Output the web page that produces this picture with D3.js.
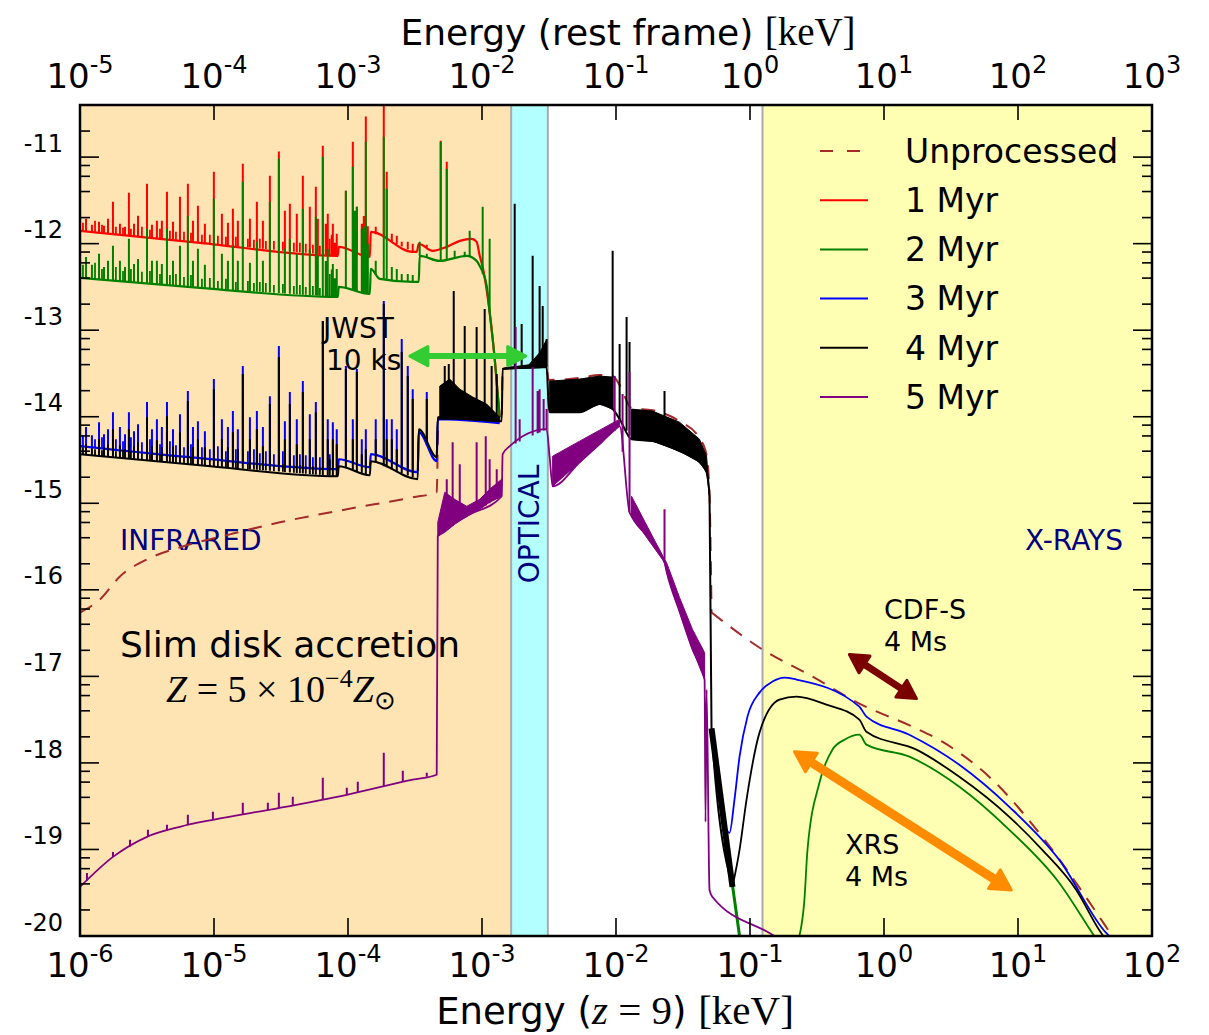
<!DOCTYPE html>
<html>
<head>
<meta charset="utf-8">
<script src="https://cdn.jsdelivr.net/npm/d3@7"></script>
<style>
  body { margin: 0; background: #fff; }
  svg { display: block; }
</style>
</head>
<body>
<svg id="chart" width="1209" height="1035"></svg>
<script>
// ---------------------------------------------------------------------------
// Spectra: [log10 E(keV, observed at z = 9), log10 flux]
// ---------------------------------------------------------------------------
const redshift = 9;

// Unprocessed (intrinsic) slim-disk spectrum, below and above the UV cut-off
const unprocessed = [[-6.000,-16.262],[-5.851,-16.111],[-5.702,-15.845],[-5.500,-15.648],[-5.254,-15.509],[-4.881,-15.359],[-4.509,-15.220],[-4.009,-15.069],[-3.517,-14.931],[-3.338,-14.873],[-3.325,-14.010],[-2.853,-14.040],[-2.846,-13.440],[-2.518,-13.420],[-2.503,-13.575],[-2.271,-13.552],[-2.122,-13.517],[-2.025,-13.530],[-1.973,-13.635],[-1.884,-13.900],[-1.727,-13.925],[-1.526,-14.052],[-1.377,-14.248],[-1.324,-14.445],[-1.302,-14.910],[-1.287,-16.262]];
const unprocessedXray = [[-1.287,-16.262],[-0.907,-16.690],[-0.534,-17.002],[-0.169,-17.326],[0.212,-17.581],[0.435,-17.755],[0.808,-18.194],[1.181,-18.854],[1.658,-19.896],[1.703,-20.000]];

// Continua in the infrared
const myr1Cont = [[-6.000,-11.852],[-5.105,-11.991],[-4.076,-12.141],[-4.069,-12.037],[-3.837,-12.153],[-3.830,-11.863],[-3.517,-12.095],[-3.487,-12.095],[-3.472,-12.002],[-3.368,-12.083],[-3.263,-12.037],[-3.166,-11.968],[-3.077,-11.944],[-3.040,-11.979],[-3.017,-12.141],[-2.995,-12.269],[-2.943,-12.789],[-2.905,-13.333],[-2.868,-14.005]];
const myr2Cont = [[-6.000,-12.396],[-5.105,-12.512],[-4.076,-12.616],[-4.069,-12.500],[-3.837,-12.581],[-3.830,-12.292],[-3.763,-12.407],[-3.517,-12.442],[-3.472,-12.442],[-3.465,-12.141],[-3.315,-12.199],[-3.114,-12.141],[-3.040,-12.199],[-3.017,-12.257],[-2.965,-12.488],[-2.943,-12.789],[-2.905,-13.333],[-2.868,-14.005]];
const myr3Cont = [[-6.000,-14.340],[-5.105,-14.479],[-4.076,-14.606],[-4.069,-14.491],[-3.837,-14.583],[-3.830,-14.433],[-3.480,-14.641],[-3.472,-14.178],[-3.338,-14.514],[-3.330,-14.028],[-2.868,-14.074]];

// 2 Myr and 3 Myr beyond the UV cut-off
const myr2High = [[-1.287,-17.616],[-1.131,-19.410],[-1.078,-20.000]];
const myr2Xray = [[-0.631,-20.000],[-0.594,-19.583],[-0.571,-19.005],[-0.482,-18.229],[-0.385,-17.847],[-0.295,-17.732],[-0.184,-17.674],[-0.131,-17.789],[0.189,-17.928],[0.562,-18.275],[0.935,-18.773],[1.308,-19.387],[1.554,-19.965],[1.569,-20.000]];
const myr3Xray = [[-1.287,-17.616],[-1.153,-18.808],[-1.116,-18.426],[-1.078,-17.928],[-1.019,-17.465],[-0.929,-17.188],[-0.832,-17.060],[-0.743,-17.014],[-0.653,-17.037],[-0.184,-17.350],[-0.131,-17.465],[0.189,-17.674],[0.562,-18.021],[0.935,-18.507],[1.308,-19.120],[1.658,-19.965],[1.680,-20.000]];

// 4 Myr, infrared to the UV cut-off, then the X-ray rise
const myr4 = [[-6.000,-14.433],[-5.105,-14.560],[-4.076,-14.688],[-4.069,-14.572],[-3.837,-14.676],[-3.830,-14.514],[-3.480,-14.722],[-3.472,-14.144],[-3.338,-14.468],[-3.330,-14.005],[-3.092,-14.028],[-2.853,-14.051],[-2.846,-13.449],[-2.518,-13.426],[-2.503,-13.854],[-2.495,-13.947],[-2.271,-13.947],[-2.122,-13.854],[-2.025,-13.912],[-1.973,-14.028],[-1.884,-14.259],[-1.727,-14.282],[-1.526,-14.398],[-1.377,-14.525],[-1.324,-14.641],[-1.302,-14.919],[-1.287,-17.616],[-1.131,-19.433]];
const myr4Xray = [[-1.131,-19.433],[-1.078,-19.005],[-1.026,-18.426],[-0.929,-17.650],[-0.780,-17.269],[-0.653,-17.234],[-0.430,-17.326],[-0.184,-17.500],[-0.131,-17.639],[0.242,-17.847],[0.562,-18.160],[0.935,-18.623],[1.181,-19.005],[1.435,-19.468],[1.606,-19.931],[1.636,-20.000]];
const myr4DenseV = [[-1.287,-17.600],[-1.131,-19.433]];
// unresolved line forests: [logE, lower, upper]
const myr4ForestIR = [[-3.315,-14.028,-13.646],[-3.241,-14.028,-13.565],[-3.166,-14.028,-13.681],[-3.069,-14.039,-13.773],[-2.965,-14.045,-13.854],[-2.868,-14.051,-14.005]];
const myr4ForestOpt = [[-2.846,-13.449,-13.440],[-2.650,-13.440,-13.400],[-2.570,-13.435,-13.260],[-2.518,-13.426,-13.110]];
const myr4ForestUV1 = [[-2.495,-13.947,-13.588],[-2.271,-13.947,-13.565],[-2.122,-13.854,-13.530],[-2.025,-13.912,-13.542]];
const myr4ForestUV2 = [[-1.884,-14.259,-13.912],[-1.727,-14.282,-13.935],[-1.526,-14.398,-14.063],[-1.377,-14.525,-14.259],[-1.324,-14.641,-14.456],[-1.302,-14.919,-14.919]];

// 5 Myr
const myr5 = [[-6.000,-19.433],[-5.754,-19.086],[-5.500,-18.854],[-5.254,-18.738],[-5.008,-18.657],[-4.509,-18.519],[-4.009,-18.368],[-3.517,-18.194],[-3.338,-18.137],[-3.330,-15.382],[-3.114,-15.150],[-2.853,-14.919],[-2.846,-14.433],[-2.793,-14.340],[-2.518,-14.144],[-2.495,-14.468],[-2.473,-14.803],[-2.271,-14.526],[-2.122,-14.317],[-1.973,-14.109],[-1.899,-15.104],[-1.884,-15.150],[-1.638,-15.683],[-1.623,-15.787],[-1.526,-16.250],[-1.429,-16.690],[-1.339,-17.037],[-1.332,-18.681],[-1.324,-17.153],[-1.302,-19.468],[-1.280,-19.549],[-0.855,-19.965],[-0.817,-20.000]];
const myr5ForestIR = [[-3.330,-15.382,-15.220],[-3.278,-15.336,-14.873],[-3.204,-15.243,-14.954],[-3.114,-15.150,-15.035],[-3.017,-15.069,-14.954],[-2.943,-14.988,-14.838],[-2.853,-14.919,-14.722]];
const myr5ForestUV1 = [[-2.473,-14.803,-14.456],[-2.271,-14.526,-14.282],[-2.122,-14.317,-14.155],[-1.973,-14.109,-14.028]];
const myr5ForestUV2 = [[-1.884,-15.150,-14.919],[-1.638,-15.683,-15.648],[-1.623,-15.787,-15.683],[-1.526,-16.250,-16.088],[-1.429,-16.690,-16.458],[-1.339,-17.037,-16.725]];

// Strong infrared emission lines shared by the 1-4 Myr spectra: energies and peak fluxes
const irLineE = [-5.955,-5.911,-5.858,-5.821,-5.791,-5.754,-5.702,-5.664,-5.635,-5.597,-5.567,-5.500,-5.463,-5.426,-5.389,-5.351,-5.306,-5.254,-5.195,-5.157,-5.120,-5.068,-5.001,-4.941,-4.896,-4.859,-4.822,-4.785,-4.732,-4.680,-4.635,-4.583,-4.516,-4.471,-4.434,-4.382,-4.337,-4.285,-4.240,-4.188,-4.151,-4.113,-4.084,-4.016,-3.964,-3.934,-3.897,-3.867,-3.793,-3.733,-3.711,-3.673,-3.636,-3.599,-3.554,-3.517,-3.412];
const irPeak1 = [-11.713,-11.782,-11.748,-11.794,-11.713,-11.516,-11.771,-11.806,-11.412,-11.771,
  -11.678,-11.308,-11.782,-11.736,-11.736,-11.400,-11.748,-11.458,-11.308,-11.736,
  -11.563,-11.771,-11.169,-11.655,-11.759,-11.597,-11.736,-11.076,-11.713,-11.516,
  -11.736,-11.215,-10.935,-11.620,-11.539,-11.655,-11.215,-11.574,-11.343,-10.868,
  -11.655,-11.771,-11.887,-11.389,-10.822,-11.574,-11.771,-10.532,-11.806,-10.370,
  -11.169,-11.887,-11.910,-11.979,-11.979,-12.002,-12.014];
const irPeak2 = [-12.153,-12.245,-12.118,-12.269,-12.199,-12.025,-12.199,-12.269,-11.944,-12.234,
  -12.176,-11.829,-12.199,-12.199,-12.234,-11.829,-12.199,-12.025,-11.678,-12.199,
  -12.060,-12.245,-11.481,-12.118,-12.199,-12.025,-12.199,-11.285,-12.222,-11.979,
  -12.199,-11.516,-11.019,-12.060,-11.944,-12.118,-11.597,-12.060,-11.690,-10.995,
  -12.060,-12.234,-12.292,-11.389,-11.111,-11.574,-11.829,-10.822,-12.199,-10.764,
  -11.366,-12.269,-12.292,-12.350,-12.350,-12.361,-12.118];
const irPeak3 = [-14.120,-14.213,-14.063,-14.201,-14.144,-13.947,-14.120,-14.201,-13.947,-14.167,
  -14.086,-13.831,-14.144,-14.028,-14.120,-13.831,-14.144,-13.970,-13.704,-14.120,
  -14.051,-14.167,-13.565,-14.028,-14.120,-13.935,-14.144,-13.414,-14.005,-13.935,
  -14.120,-13.762,-13.183,-14.051,-13.715,-14.028,-13.588,-13.970,-13.831,-12.894,
  -14.028,-14.063,-14.144,-13.414,-14.028,-13.449,-14.259,-14.144,-14.028,-12.662,
  -14.028,-14.028,-14.144,-13.102,-13.414,-13.681,-13.715];
const irPeak4 = [-14.317,-14.363,-14.259,-14.352,-14.317,-14.144,-14.329,-14.375,-14.144,-14.340,
  -14.294,-14.005,-14.340,-14.271,-14.352,-13.993,-14.340,-14.178,-13.819,-14.352,
  -14.259,-14.352,-13.681,-14.259,-14.352,-14.178,-14.375,-13.507,-14.259,-14.144,
  -14.340,-13.854,-13.310,-14.259,-13.854,-14.317,-13.715,-14.259,-13.947,-12.894,
  -14.259,-14.259,-14.317,-13.449,-14.259,-13.484,-14.433,-14.375,-14.259,-12.697,
  -14.259,-14.259,-14.375,-13.253,-13.530,-13.796,-13.796];

// Weak infrared lines (the low "grass" above each continuum)
const irWeakE = [-5.978,-5.888,-5.836,-5.732,-5.679,-5.620,-5.538,-5.478,-5.403,-5.329,-5.284,-5.224,-5.172,-5.090,-5.031,-4.971,-4.911,-4.837,-4.747,-4.702,-4.658,-4.613,-4.553,-4.486,-4.404,-4.359,-4.315,-4.262,-4.210,-4.136];
const irWeak1 = [-11.759,-11.736,-11.782,-11.806,-11.817,-11.829,-11.806,-11.840,-11.829,-11.852,-11.863,-11.863,-11.875,-11.898,-11.898,-11.910,-11.921,-11.921,-11.944,-11.956,-11.944,-11.968,-11.968,-11.979,-11.991,-11.991,-12.002,-12.014,-12.025,-11.944];
const irWeak2 = [-12.245,-12.222,-12.292,-12.269,-12.315,-12.292,-12.326,-12.315,-12.350,-12.361,-12.350,-12.384,-12.361,-12.407,-12.396,-12.431,-12.407,-12.442,-12.431,-12.454,-12.442,-12.454,-12.477,-12.466,-12.488,-12.477,-12.500,-12.488,-12.512,-12.350];
const irWeak3 = [-14.213,-14.259,-14.236,-14.259,-14.282,-14.236,-14.294,-14.259,-14.317,-14.282,-14.329,-14.352,-14.317,-14.352,-14.375,-14.340,-14.398,-14.375,-14.398,-14.375,-14.421,-14.398,-14.433,-14.398,-14.444,-14.433,-14.444,-14.468,-14.468,-14.433];
const irWeak4 = [-14.352,-14.375,-14.387,-14.398,-14.387,-14.398,-14.421,-14.433,-14.433,-14.444,-14.456,-14.468,-14.468,-14.479,-14.491,-14.491,-14.502,-14.514,-14.525,-14.525,-14.537,-14.537,-14.549,-14.549,-14.560,-14.560,-14.572,-14.572,-14.583,-14.491];

// Further lines specific to each age: [logE, peak]
const myr1Lines = [[-4.225,-11.713],[-4.166,-11.771],[-4.121,-11.898],[-4.098,-11.991],[-3.949,-11.644],[-3.882,-11.680],[-3.852,-11.800],[-3.308,-10.810],[-3.263,-11.053]];
const myr2Lines = [[-4.225,-12.140],[-4.166,-12.200],[-4.121,-12.300],[-4.098,-12.400],[-3.949,-11.620],[-3.882,-11.800],[-3.852,-12.000],[-3.465,-11.979],[-3.308,-10.822],[-3.263,-11.134],[-3.204,-12.083],[-3.129,-12.095],[-3.092,-11.852],[-2.995,-11.574],[-2.943,-11.944]];
const myr4Lines = [[-3.278,-13.414],[-3.248,-13.391],[-3.211,-12.546],[-3.129,-12.951],[-3.040,-12.963],[-2.980,-12.755],[-2.928,-13.414],[-2.890,-13.507],[-2.756,-11.539],[-2.704,-12.928],[-2.622,-12.141],[-2.570,-12.488],[-2.547,-12.720],[-2.518,-13.102],[-2.025,-12.083],[-1.973,-13.160],[-1.921,-12.847],[-1.899,-13.137],[-1.638,-13.704]];
const myr5Lines = [[-5.948,-19.271],[-5.754,-19.028],[-5.627,-18.889],[-5.493,-18.773],[-5.351,-18.715],[-5.195,-18.600],[-5.008,-18.565],[-4.785,-18.461],[-4.598,-18.461],[-4.516,-18.345],[-4.412,-18.391],[-4.188,-18.171],[-4.009,-18.287],[-3.927,-18.218],[-3.733,-17.882],[-3.591,-18.090],[-3.412,-18.113],
  [-3.263,-14.722],[-3.219,-14.294],[-3.166,-14.549],[-3.040,-14.294],[-2.972,-14.225],[-2.943,-14.491],[-2.890,-14.606],
  [-2.749,-12.963],[-2.719,-14.028],[-2.622,-13.426],[-2.585,-13.704],[-2.570,-13.681],[-2.540,-13.796],[-2.518,-13.912],
  [-2.010,-13.530],[-1.951,-13.738],[-1.899,-13.484],[-1.638,-15.069]];

// Wavebands (keV, observed)
const bandNames = ["INFRARED", "OPTICAL", "X-RAYS"];
const bandRanges = [[1e-6, 1.65e-3], [1.65e-3, 3.1e-3], [0.124, 100]];
const bandColors = ["#ffe4b3", "#b3ffff", "#ffffb3"];

// Survey sensitivity ranges: [logE, log flux] at each end
const jwstRange = [[-3.538,-13.299],[-2.674,-13.299]];
const cdfsRange = [[-0.258,-16.748],[0.242,-17.257]];
const xrsRange  = [[-0.668,-17.870],[0.950,-19.468]];

// Axis ticks
const bottomExps = [-6,-5,-4,-3,-2,-1,0,1,2];
const topExps = [-5,-4,-3,-2,-1,0,1,2,3];
const fluxDecades = [-20,-19,-18,-17,-16,-15,-14,-13,-12,-11];

const legendLabels = ["Unprocessed", "1 Myr", "2 Myr", "3 Myr", "4 Myr", "5 Myr"];
const legendColors = ["#a52a2a", "red", "green", "blue", "black", "purple"];

// ---------------------------------------------------------------------------
const svg = d3.select("#chart");
const M = { left: 80, right: 1152, top: 105, bottom: 936 };
const x = d3.scaleLinear().domain([-6, 2]).range([M.left, M.right]);
const y = d3.scaleLinear().domain([-20, Math.log10(4e-11)]).range([M.bottom, M.top]);
const xRest = d3.scaleLinear().domain(x.domain().map(v => v + Math.log10(1 + redshift))).range(x.range());

const SANS = "DejaVu Sans";
const SERIF = "Liberation Serif";

svg.append("defs").append("clipPath").attr("id", "plotclip")
  .append("rect").attr("x", M.left).attr("y", M.top)
  .attr("width", M.right - M.left).attr("height", M.bottom - M.top);
const plot = svg.append("g").attr("clip-path", "url(#plotclip)");

// wavebands
bandRanges.forEach((r, i) => {
  plot.append("rect")
    .attr("x", x(Math.log10(r[0]))).attr("y", M.top)
    .attr("width", x(Math.log10(r[1])) - x(Math.log10(r[0])))
    .attr("height", M.bottom - M.top)
    .attr("fill", bandColors[i]);
});
[1.65e-3, 3.1e-3, 0.124].forEach(v => {
  plot.append("line").attr("x1", x(Math.log10(v))).attr("x2", x(Math.log10(v)))
    .attr("y1", M.top).attr("y2", M.bottom)
    .attr("stroke", "#aaaaaa").attr("stroke-width", 2);
});

// band names and annotations (under the spectra)
const navy = "#000080";
plot.append("text").attr("x", 120).attr("y", 550).attr("font-family", SANS).attr("font-size", 28).attr("fill", navy).text(bandNames[0]);
plot.append("text").attr("x", 1123).attr("y", 550).attr("text-anchor", "end").attr("font-family", SANS).attr("font-size", 28).attr("fill", navy).text(bandNames[2]);
plot.append("text").attr("transform", `translate(${x(Math.log10(Math.sqrt(1.65e-3 * 3.1e-3))) + 10},524) rotate(-90)`)
  .attr("text-anchor", "middle").attr("font-family", SANS).attr("font-size", 28).attr("fill", navy).text(bandNames[1]);

const jw = plot.append("text").attr("font-family", SANS).attr("font-size", 28).attr("fill", "#000");
jw.append("tspan").attr("x", 323).attr("y", 338).text("JWST");
jw.append("tspan").attr("x", 326).attr("y", 370).text("10 ks");

plot.append("text").attr("x", 120).attr("y", 657).attr("font-family", SANS).attr("font-size", 36).text("Slim disk accretion");
const zt = plot.append("text").attr("x", 166).attr("y", 702).attr("font-family", SERIF).attr("font-size", 38);
zt.append("tspan").attr("font-style", "italic").text("Z");
zt.append("tspan").text(" = 5 × 10");
zt.append("tspan").attr("dy", -15).attr("font-size", 26).text("−4");
zt.append("tspan").attr("dy", 15).attr("font-style", "italic").text("Z");
zt.append("tspan").attr("dy", 7).attr("font-size", 26).text("⊙");

// helpers
const line = d3.line().x(d => x(d[0])).y(d => y(d[1])).curve(d3.curveMonotoneX);
const band = d3.area().x(d => x(d[0])).y0(d => y(d[1])).y1(d => y(d[2]));
const byE = d3.bisector(d => d[0]).left;
function contAt(cont, e) {
  const i = byE(cont, e);
  if (i <= 0) return cont[0][1];
  if (i >= cont.length) return cont[cont.length - 1][1];
  const a = cont[i - 1], b = cont[i];
  return a[1] + (e - a[0]) / (b[0] - a[0]) * (b[1] - a[1]);
}
function drawLine(data, color, w, dash) {
  const p = plot.append("path").datum(data).attr("d", line)
    .attr("fill", "none").attr("stroke", color).attr("stroke-width", w)
    .attr("stroke-linejoin", "round");
  if (dash) p.attr("stroke-dasharray", dash);
  return p;
}
function drawBand(data, color) {
  plot.append("path").datum(data).attr("d", band).attr("fill", color).attr("stroke", color).attr("stroke-width", 1);
}
function drawLines(lines, cont, color, w) {
  const d = lines.map(([e, p]) => `M${x(e)},${y(contAt(cont, e))}V${y(p)}`).join("");
  plot.append("path").attr("d", d).attr("stroke", color).attr("stroke-width", w).attr("fill", "none");
}
const zip = (es, peaks) => es.map((e, i) => [e, peaks[i]]);

// Unprocessed
drawLine(unprocessed, "#a52a2a", 2, "14,10");
drawLine(unprocessedXray, "#a52a2a", 2, "14,10");

// 1 Myr
drawLine(myr1Cont, "red", 2.2);
drawLines(zip(irWeakE, irWeak1), myr1Cont, "red", 1.8);
drawLines(zip(irLineE, irPeak1).concat(myr1Lines), myr1Cont, "red", 2);

// 2 Myr
drawLine(myr2Cont, "green", 2.2);
drawLines(zip(irWeakE, irWeak2), myr2Cont, "green", 1.8);
drawLines(zip(irLineE, irPeak2).concat(myr2Lines), myr2Cont, "green", 2);
drawLine(myr2High, "green", 3);
drawLine(myr2Xray, "green", 1.8);

// 3 Myr
drawLine(myr3Cont, "blue", 2.2);
drawLines(zip(irWeakE, irWeak3), myr3Cont, "blue", 1.8);
drawLines(zip(irLineE, irPeak3), myr3Cont, "blue", 2);
drawLine(myr3Xray, "blue", 1.8);

// 4 Myr
drawBand(myr4ForestIR, "black");
drawBand(myr4ForestOpt, "black");
drawBand(myr4ForestUV1, "black");
drawBand(myr4ForestUV2, "black");
drawLine(myr4, "black", 2);
drawLine(myr4Xray, "black", 1.8);
drawLine(myr4DenseV, "black", 6);
drawLines(zip(irWeakE, irWeak4), myr4, "black", 1.8);
drawLines(zip(irLineE, irPeak4).concat(myr4Lines), myr4, "black", 2);

// 5 Myr
drawBand(myr5ForestIR, "purple");
drawBand(myr5ForestUV1, "purple");
drawBand(myr5ForestUV2, "purple");
drawLine(myr5, "purple", 1.8);
drawLines(myr5Lines, myr5, "purple", 2);

// double-headed range arrows
function rangeArrow(pts, color, w, headL, headW) {
  const p0 = [x(pts[0][0]), y(pts[0][1])], p1 = [x(pts[1][0]), y(pts[1][1])];
  const dx = p1[0] - p0[0], dy = p1[1] - p0[1], L = Math.hypot(dx, dy);
  const ux = dx / L, uy = dy / L, nx = -uy, ny = ux;
  const g = plot.append("g");
  g.append("line")
    .attr("x1", p0[0] + ux * headL * 0.8).attr("y1", p0[1] + uy * headL * 0.8)
    .attr("x2", p1[0] - ux * headL * 0.8).attr("y2", p1[1] - uy * headL * 0.8)
    .attr("stroke", color).attr("stroke-width", w);
  [[p0, 1], [p1, -1]].forEach(([tip, s]) => {
    const bx = tip[0] + s * ux * headL, by = tip[1] + s * uy * headL;
    const pts2 = [[tip[0], tip[1]], [bx + nx * headW / 2, by + ny * headW / 2], [bx - nx * headW / 2, by - ny * headW / 2]];
    g.append("path").attr("d", "M" + pts2.map(q => q.join(",")).join("L") + "Z")
      .attr("fill", color).attr("stroke", color).attr("stroke-width", 3).attr("stroke-linejoin", "round");
  });
}
rangeArrow(jwstRange, "#33cc33", 6, 18, 19);
rangeArrow(cdfsRange, "#7b0000", 7, 18, 20);
rangeArrow(xrsRange, "#ff8c00", 9, 20, 22);

// survey labels
const cd = plot.append("text").attr("font-family", SANS).attr("font-size", 27);
cd.append("tspan").attr("x", 884).attr("y", 619).text("CDF-S");
cd.append("tspan").attr("x", 884).attr("y", 651).text("4 Ms");
const xr = plot.append("text").attr("font-family", SANS).attr("font-size", 27);
xr.append("tspan").attr("x", 845).attr("y", 854).text("XRS");
xr.append("tspan").attr("x", 845).attr("y", 886).text("4 Ms");

// legend
const leg = svg.append("g");
legendLabels.forEach((lab, i) => {
  const yy = 151 + i * 49.2;
  const l = leg.append("line").attr("x1", 820).attr("x2", 868).attr("y1", yy).attr("y2", yy)
    .attr("stroke", legendColors[i]).attr("stroke-width", 2);
  if (i === 0) l.attr("stroke-dasharray", "13,14");
  leg.append("text").attr("x", 905).attr("y", yy).attr("dy", "0.36em")
    .attr("font-family", SANS).attr("font-size", 33).text(lab);
});

// frame and ticks
const axes = svg.append("g").attr("stroke", "#000").attr("fill", "none");
bottomExps.forEach(e => {
  axes.append("line").attr("x1", x(e)).attr("x2", x(e)).attr("y1", M.bottom).attr("y2", M.bottom - 18).attr("stroke-width", 1.6);
});
topExps.forEach(e => {
  axes.append("line").attr("x1", xRest(e)).attr("x2", xRest(e)).attr("y1", M.top).attr("y2", M.top + 15).attr("stroke-width", 1.6);
});
const yMax = y.domain()[1];
fluxDecades.forEach(d => {
  [[d, 19], [d + Math.log10(2), 10], [d + Math.log10(4), 10], [d + Math.log10(6), 10], [d + Math.log10(8), 10]]
    .filter(([v]) => v <= yMax + 1e-6)
    .forEach(([v, len]) => {
      axes.append("line").attr("x1", M.left).attr("x2", M.left + len).attr("y1", y(v)).attr("y2", y(v)).attr("stroke-width", 1.6);
      axes.append("line").attr("x1", M.right).attr("x2", M.right - len).attr("y1", y(v)).attr("y2", y(v)).attr("stroke-width", 1.6);
    });
});
axes.append("rect").attr("x", M.left).attr("y", M.top)
  .attr("width", M.right - M.left).attr("height", M.bottom - M.top).attr("stroke-width", 2.5);

// tick labels
function powLabel(xp, yp, exp) {
  const t = svg.append("text").attr("x", xp).attr("y", yp).attr("text-anchor", "middle")
    .attr("font-family", SANS).attr("font-size", 34);
  t.append("tspan").text("10");
  t.append("tspan").attr("dy", -15).attr("font-size", 24).text(exp);
}
bottomExps.forEach(e => powLabel(x(e), 977, e));
topExps.forEach(e => powLabel(xRest(e), 88, e));
fluxDecades.forEach(d => {
  svg.append("text").attr("x", 63).attr("y", y(d) - 14).attr("dy", "0.36em")
    .attr("text-anchor", "end").attr("font-family", SANS).attr("font-size", 24).text(d);
});

// axis titles
const tt = svg.append("text").attr("x", 628).attr("y", 45).attr("text-anchor", "middle").attr("font-size", 36);
tt.append("tspan").attr("font-family", SANS).text("Energy (rest frame) ");
tt.append("tspan").attr("font-family", SERIF).attr("font-size", 39).text("[keV]");
const bt = svg.append("text").attr("x", 615).attr("y", 1024).attr("text-anchor", "middle").attr("font-size", 37);
bt.append("tspan").attr("font-family", SANS).text("Energy (");
bt.append("tspan").attr("font-family", SERIF).attr("font-style", "italic").attr("font-size", 41).text("z");
bt.append("tspan").attr("font-family", SERIF).attr("font-size", 41).text(" = 9");
bt.append("tspan").attr("font-family", SANS).text(") ");
bt.append("tspan").attr("font-family", SERIF).attr("font-size", 41).text("[keV]");
</script>
</body>
</html>
